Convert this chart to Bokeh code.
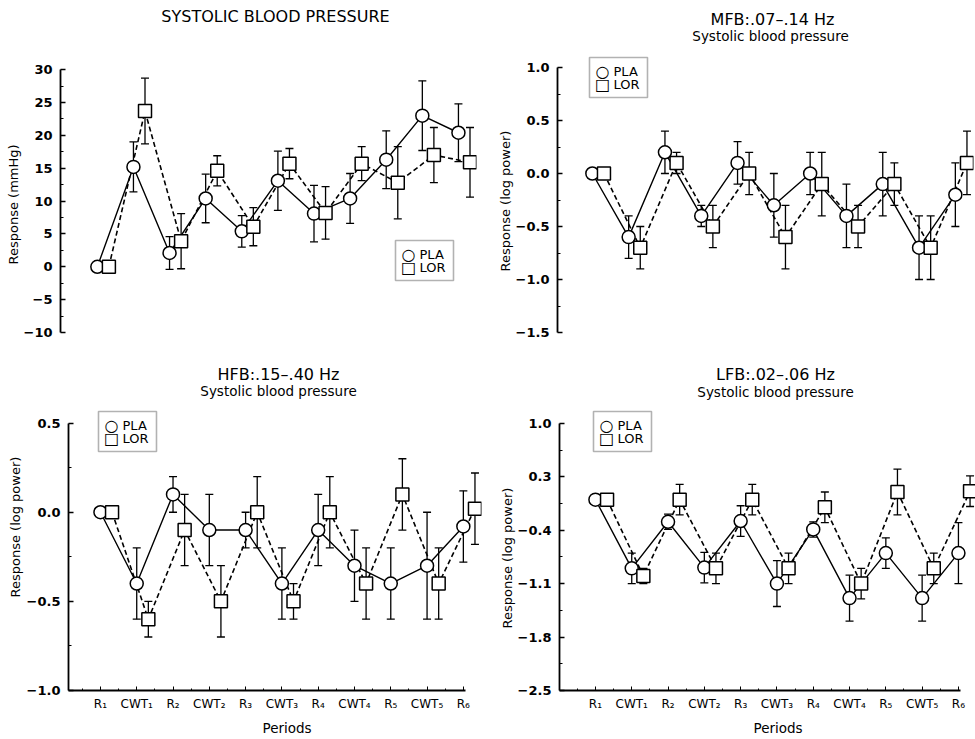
import math
from bokeh.plotting import figure
from bokeh.models import (Range1d, FixedTicker, Whisker, ColumnDataSource, Label,
                          BoxAnnotation, TeeHead, Title)
from bokeh.layouts import column, row
from bokeh.embed import file_html
from bokeh.resources import INLINE

# ---------------- data ----------------
periods = ["R\u2081", "CWT\u2081", "R\u2082", "CWT\u2082", "R\u2083", "CWT\u2083",
           "R\u2084", "CWT\u2084", "R\u2085", "CWT\u2085", "R\u2086"]
series_names = ["PLA", "LOR"]

sbp_pla = [0, 15.2, 2.1, 10.4, 5.4, 13.1, 8.1, 10.4, 16.3, 23.0, 20.4]
sbp_pla_err = [0, 3.8, 2.5, 3.7, 2.4, 4.5, 4.3, 3.8, 4.4, 5.3, 4.4]
sbp_lor = [0, 23.7, 3.9, 14.6, 6.1, 15.7, 8.2, 15.7, 12.8, 17.0, 15.9]
sbp_lor_err = [0, 5.0, 4.2, 2.3, 2.9, 2.3, 4.0, 2.6, 5.5, 4.2, 5.3]
sbp_ticks = [-10, -5, 0, 5, 10, 15, 20, 25, 30]
sbp_tick_labels = ["\u221210", "\u22125", "0", "5", "10", "15", "20", "25", "30"]

mfb_pla = [0, -0.6, 0.2, -0.4, 0.1, -0.3, 0.0, -0.4, -0.1, -0.7, -0.2]
mfb_pla_err = [0, 0.2, 0.2, 0.1, 0.2, 0.3, 0.2, 0.3, 0.3, 0.3, 0.3]
mfb_lor = [0, -0.7, 0.1, -0.5, 0.0, -0.6, -0.1, -0.5, -0.1, -0.7, 0.1]
mfb_lor_err = [0, 0.2, 0.1, 0.2, 0.2, 0.3, 0.3, 0.2, 0.2, 0.3, 0.3]
mfb_ticks = [-1.5, -1.0, -0.5, 0.0, 0.5, 1.0]
mfb_tick_labels = ["\u22121.5", "\u22121.0", "\u22120.5", "0.0", "0.5", "1.0"]

hfb_pla = [0, -0.4, 0.1, -0.1, -0.1, -0.4, -0.1, -0.3, -0.4, -0.3, -0.08]
hfb_pla_err = [0, 0.2, 0.1, 0.2, 0.1, 0.2, 0.2, 0.2, 0.2, 0.3, 0.2]
hfb_lor = [0, -0.6, -0.1, -0.5, 0.0, -0.5, 0.0, -0.4, 0.1, -0.4, 0.02]
hfb_lor_err = [0, 0.1, 0.2, 0.2, 0.2, 0.1, 0.2, 0.2, 0.2, 0.2, 0.2]
hfb_ticks = [-1.0, -0.5, 0.0, 0.5]
hfb_tick_labels = ["\u22121.0", "\u22120.5", "0.0", "0.5"]

lfb_pla = [0.0, -0.9, -0.29, -0.89, -0.28, -1.1, -0.39, -1.29, -0.7, -1.29, -0.7]
lfb_pla_err = [0, 0.2, 0.1, 0.2, 0.2, 0.3, 0.1, 0.3, 0.2, 0.3, 0.4]
lfb_lor = [0.0, -1.0, 0.0, -0.9, 0.0, -0.9, -0.1, -1.1, 0.1, -0.9, 0.11]
lfb_lor_err = [0, 0.1, 0.2, 0.2, 0.2, 0.2, 0.2, 0.2, 0.3, 0.2, 0.2]
lfb_ticks = [-2.5, -1.8, -1.1, -0.4, 0.3, 1.0]
lfb_tick_labels = ["\u22122.5", "\u22121.8", "\u22121.1", "\u22120.4", "0.3", "1.0"]

LOR_SHIFT = 0.32
FONT = "DejaVu Sans"


def whisker(p, xs, ys, es):
    bx = [x for x, e in zip(xs, es) if e > 0]
    up = [y + e for y, e in zip(ys, es) if e > 0]
    lo = [y - e for y, e in zip(ys, es) if e > 0]
    src = ColumnDataSource(dict(x=bx, upper=up, lower=lo))
    w = Whisker(source=src, base="x", upper="upper", lower="lower", dimension="height",
                line_color="black", line_width=1.3,
                upper_head=TeeHead(size=8, line_width=1.3, line_color="black"),
                lower_head=TeeHead(size=8, line_width=1.3, line_color="black"))
    p.add_layout(w)


def panel(fig_w, fig_h, ox, oy, ax_left, ax_top, ax_bottom, border_right,
          xstart, xend, ylo, yhi, yticks, ylabels,
          pla, pla_err, lor, lor_err, show_x, legend_box, titles,
          ylabel, ylabel_offset, ylabel_standoff, xlabel_offset=None):
    # ax_left: pixels from figure's left edge; other positions are page pixels
    top_px = ax_top - oy
    bot_px = ax_bottom - oy
    per_px = (yhi - ylo) / (bot_px - top_px)
    y_end = yhi + top_px * per_px

    p = figure(width=fig_w, height=fig_h, output_backend="svg", toolbar_location=None,
               x_range=Range1d(xstart, xend), y_range=Range1d(ylo, y_end),
               min_border_left=ax_left, min_border_right=border_right, min_border_top=0,
               min_border_bottom=fig_h - bot_px)
    p.outline_line_color = None
    p.xgrid.visible = False
    p.ygrid.visible = False
    p.background_fill_color = "white"
    p.border_fill_color = "white"

    # y axis
    minor = [(a + b) / 2 for a, b in zip(yticks[:-1], yticks[1:])]
    p.yaxis.ticker = FixedTicker(ticks=yticks, minor_ticks=minor)
    p.yaxis.bounds = (ylo, yhi)
    p.yaxis.major_label_overrides = {t: l for t, l in zip(yticks, ylabels)}
    p.yaxis.axis_line_width = 1.8
    p.yaxis.axis_line_color = "black"
    p.yaxis.major_tick_in = 5
    p.yaxis.major_tick_out = 0
    p.yaxis.minor_tick_in = 3
    p.yaxis.minor_tick_out = 0
    p.yaxis.major_tick_line_width = 1.3
    p.yaxis.major_tick_line_color = "black"
    p.yaxis.minor_tick_line_color = "black"
    p.yaxis.major_label_text_font = FONT
    p.yaxis.major_label_text_font_size = "13px"
    p.yaxis.major_label_text_font_style = "bold"
    p.yaxis.major_label_text_color = "black"
    p.yaxis.major_label_standoff = 8

    # x axis
    if show_x:
        xt = list(range(len(periods)))
        p.xaxis.ticker = FixedTicker(ticks=xt, minor_ticks=[i + 0.5 for i in xt[:-1]] + [-0.5])
        p.xaxis.bounds = (xstart, xt[-1] + 0.05)
        p.xaxis.major_label_overrides = {i: l for i, l in enumerate(periods)}
        p.xaxis.axis_line_width = 1.8
        p.xaxis.axis_line_color = "black"
        p.xaxis.major_tick_in = 4
        p.xaxis.major_tick_out = 0
        p.xaxis.minor_tick_in = 2
        p.xaxis.minor_tick_out = 0
        p.xaxis.major_tick_line_color = "black"
        p.xaxis.minor_tick_line_color = "black"
        p.xaxis.major_label_text_font = FONT
        p.xaxis.major_label_text_font_size = "12px"
        p.xaxis.major_label_text_color = "black"
        p.xaxis.major_label_standoff = 6
        p.add_layout(Title(text="Periods", align="left", offset=xlabel_offset,
                           standoff=8, text_font=FONT, text_font_size="13.5px",
                           text_font_style="normal", text_color="black"), "below")
    else:
        p.xaxis.visible = False

    p.add_layout(Title(text=ylabel, align="left", offset=ylabel_offset,
                       standoff=ylabel_standoff, text_font=FONT, text_font_size="13px",
                       text_font_style="normal", text_color="black"), "left")

    xs = list(range(len(pla)))
    xl = [x + LOR_SHIFT for x in xs]

    p.line(xs, pla, line_color="black", line_width=1.4)
    p.line(xl, lor, line_color="black", line_width=1.6, line_dash="5 3")
    whisker(p, xs, pla, pla_err)
    whisker(p, xl, lor, lor_err)
    p.scatter(xs, pla, marker="circle", size=13, fill_color="white",
              line_color="black", line_width=1.5)
    p.scatter(xl, lor, marker="square", size=13, fill_color="white",
              line_color="black", line_width=1.5)

    def sx(abs_x):
        return abs_x - (ox + ax_left)

    def sy(abs_y):
        return ax_bottom - abs_y

    # legend box (page pixels: left, top)
    bx, by = legend_box
    p.add_layout(BoxAnnotation(left=sx(bx), right=sx(bx + 58), top=sy(by), bottom=sy(by + 40),
                               left_units="screen", right_units="screen",
                               top_units="screen", bottom_units="screen",
                               fill_color="white", fill_alpha=1.0,
                               line_color="black", line_width=1.6))
    for k, (sym, name) in enumerate(zip(["\u25CB", "\u25A1"], series_names)):
        ry = by + 14 + 13 * k
        p.add_layout(Label(x=sx(bx + 13), y=sy(ry), x_units="screen", y_units="screen",
                           text=sym, text_font=FONT, text_font_size="16px",
                           text_align="center", text_baseline="middle", text_color="black"))
        p.add_layout(Label(x=sx(bx + 24), y=sy(ry), x_units="screen", y_units="screen",
                           text=name, text_font=FONT, text_font_size="13px",
                           text_align="left", text_baseline="middle", text_color="black"))

    for (tx, ty, txt, size) in titles:
        p.add_layout(Label(x=sx(tx), y=sy(ty), x_units="screen", y_units="screen", text=txt,
                           text_font=FONT, text_font_size=size,
                           text_align="center", text_baseline="middle",
                           text_color="black"))
    return p


TOP_H = 355
BOT_H = 384

p1 = panel(487, TOP_H, 0, 0, 60, 70, 336, 11, -1.02, 10.5, -10, 30,
           sbp_ticks, sbp_tick_labels, sbp_pla, sbp_pla_err, sbp_lor, sbp_lor_err,
           False, (395, 244),
           [(275, 20, "SYSTOLIC BLOOD PRESSURE", "16px")],
           "Response (mmHg)", 68, 0)

p2 = panel(488, TOP_H, 487, 0, 70, 67, 332, 2, -0.96, 10.5, -1.5, 1.0,
           mfb_ticks, mfb_tick_labels, mfb_pla, mfb_pla_err, mfb_lor, mfb_lor_err,
           False, (589, 57),
           [(772, 19, "MFB:.07\u2013.14 Hz", "16px"),
            (770, 35, "Systolic blood pressure", "13.5px")],
           "Response (log power)", 61, 0)

p3 = panel(487, BOT_H, 0, 355, 68, 423, 692, 6, -0.88, 10.5, -1.0, 0.5,
           hfb_ticks, hfb_tick_labels, hfb_pla, hfb_pla_err, hfb_lor, hfb_lor_err,
           True, (98, 413),
           [(278, 376, "HFB:.15\u2013.40 Hz", "16px"),
            (278, 392, "Systolic blood pressure", "13.5px")],
           "Response (log power)", 93, 2, 194)

p4 = panel(488, BOT_H, 487, 355, 72, 423, 691, 0, -0.99, 10.47, -2.5, 1.0,
           lfb_ticks, lfb_tick_labels, lfb_pla, lfb_pla_err, lfb_lor, lfb_lor_err,
           True, (593, 412),
           [(775, 375, "LFB:.02\u2013.06 Hz", "16px"),
            (775, 392, "Systolic blood pressure", "13.5px")],
           "Response (log power)", 62, 0, 194)

layout = column(row(p1, p2), row(p3, p4))

open("out.html", "w").write(file_html(layout, INLINE))
